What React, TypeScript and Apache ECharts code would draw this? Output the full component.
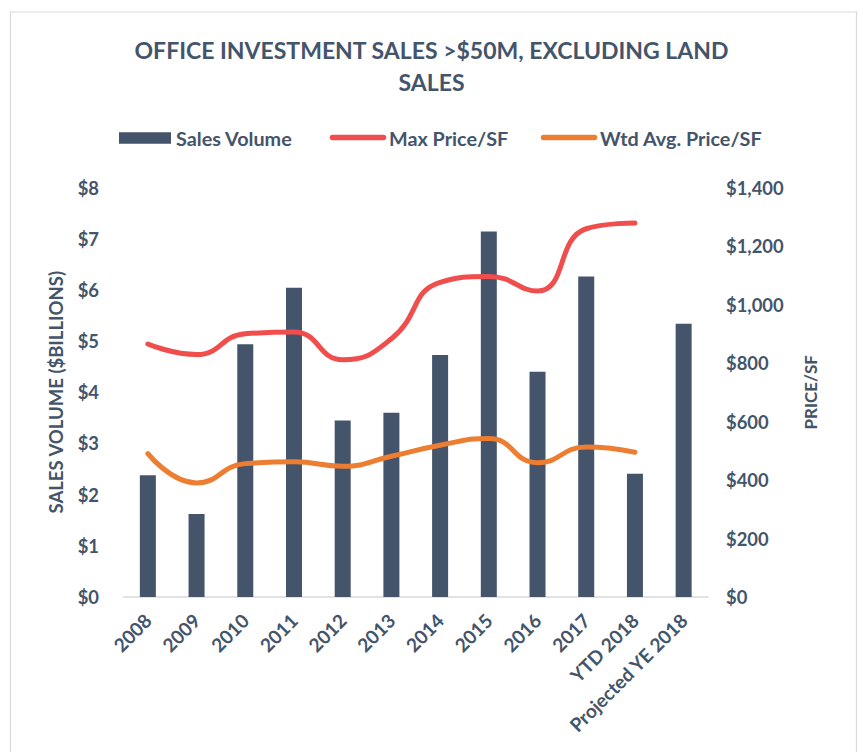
import React, { useEffect, useRef } from "react";
import * as echarts from "echarts";

const categories = ["2008", "2009", "2010", "2011", "2012", "2013", "2014", "2015", "2016", "2017", "YTD 2018", "Projected YE 2018"];
const salesVolume = [2.38, 1.62, 4.94, 6.04, 3.45, 3.6, 4.73, 7.14, 4.4, 6.26, 2.41, 5.34];
const maxPrice = [865, 829, 900, 906, 811, 883, 1076, 1096, 1046, 1259, 1279];
const wtdAvgPrice = [490, 390, 456, 462, 447, 481, 519, 542, 459, 513, 495];
const leftTicks = { min: 0, max: 8, interval: 1 };
const rightTicks = { min: 0, max: 1400, interval: 200 };

const TEXT = "#44546A";
const BAR = "#44546A";
const RED = "#F04D4D";
const ORANGE = "#ED7D31";
const FONT = "Lato, 'Open Sans', sans-serif";

export default function App() {
  const ref = useRef<HTMLDivElement>(null);
  useEffect(() => {
    if (!ref.current) return;
    const chart = echarts.init(ref.current, undefined, { renderer: "svg" });
    const labelFont = { color: TEXT, fontWeight: "bold" as const, fontSize: 18.4, fontFamily: FONT };
    const legendFont = `bold 19.8px ${FONT}`;
    chart.setOption({
      animation: false,
      backgroundColor: "#ffffff",
      textStyle: { fontFamily: FONT },
      title: {
        text: "OFFICE INVESTMENT SALES >$50M, EXCLUDING LAND\nSALES",
        left: "center",
        top: 29,
        textStyle: { color: TEXT, fontWeight: "bold", fontSize: 23, lineHeight: 32, fontFamily: FONT },
      },
      grid: { left: 123.5, right: 155, top: 187.5, bottom: 155, containLabel: false },
      xAxis: {
        type: "category",
        data: categories,
        axisLine: { lineStyle: { color: "#D9D9D9", width: 1.5 } },
        axisTick: { show: false },
        axisLabel: { ...labelFont, fontSize: 19, rotate: 45, interval: 0, margin: 20 },
      },
      yAxis: [
        {
          type: "value",
          ...leftTicks,
          name: "SALES VOLUME ($BILLIONS)",
          nameLocation: "middle",
          nameGap: 58,
          nameTextStyle: { color: TEXT, fontWeight: "bold", fontSize: 18.5, fontFamily: FONT },
          axisLine: { show: false },
          axisTick: { show: false },
          splitLine: { show: false },
          axisLabel: { ...labelFont, margin: 24.5, formatter: (v: number) => "$" + v },
        },
        {
          type: "value",
          ...rightTicks,
          position: "right",
          name: "PRICE/SF",
          nameLocation: "middle",
          nameGap: 94,
          nameTextStyle: { color: TEXT, fontWeight: "bold", fontSize: 17, fontFamily: FONT },
          axisLine: { show: false },
          axisTick: { show: false },
          splitLine: { show: false },
          axisLabel: { ...labelFont, margin: 18, formatter: (v: number) => "$" + v.toLocaleString("en-US") },
        },
      ],
      series: [
        {
          name: "Sales Volume",
          type: "bar",
          data: salesVolume,
          barWidth: 16,
          itemStyle: { color: BAR },
          yAxisIndex: 0,
        },
        {
          name: "Max Price/SF",
          type: "line",
          data: maxPrice,
          yAxisIndex: 1,
          smooth: 0.5,
          showSymbol: false,
          symbol: "none",
          lineStyle: { color: RED, width: 5, cap: "round", join: "round" },
          itemStyle: { color: RED },
        },
        {
          name: "Wtd Avg. Price/SF",
          type: "line",
          data: wtdAvgPrice,
          yAxisIndex: 1,
          smooth: 0.5,
          showSymbol: false,
          symbol: "none",
          lineStyle: { color: ORANGE, width: 5, cap: "round", join: "round" },
          itemStyle: { color: ORANGE },
        },
      ],
      graphic: [
        {
          type: "rect",
          silent: true,
          shape: { x: 10.5, y: 12, width: 846, height: 800 },
          style: { fill: "none", stroke: "#D9D9D9", lineWidth: 1.2 },
        },
        { type: "rect", shape: { x: 119, y: 132.3, width: 52, height: 11.4 }, style: { fill: BAR } },
        { type: "text", x: 176, y: 138, style: { text: "Sales Volume", fill: TEXT, font: legendFont, verticalAlign: "middle" } },
        { type: "line", shape: { x1: 332.5, y1: 137.5, x2: 383.5, y2: 137.5 }, style: { stroke: RED, lineWidth: 5.5, lineCap: "round" } },
        { type: "text", x: 389, y: 138, style: { text: "Max Price/SF", fill: TEXT, font: legendFont, verticalAlign: "middle" } },
        { type: "line", shape: { x1: 543.5, y1: 137.5, x2: 594.5, y2: 137.5 }, style: { stroke: ORANGE, lineWidth: 5.5, lineCap: "round" } },
        { type: "text", x: 600, y: 138, style: { text: "Wtd Avg. Price/SF", fill: TEXT, font: legendFont, verticalAlign: "middle" } },
      ],
    });
    return () => chart.dispose();
  }, []);
  return <div ref={ref} style={{ position: "absolute", left: 0, top: 0, width: 863, height: 752 }} />;
}
